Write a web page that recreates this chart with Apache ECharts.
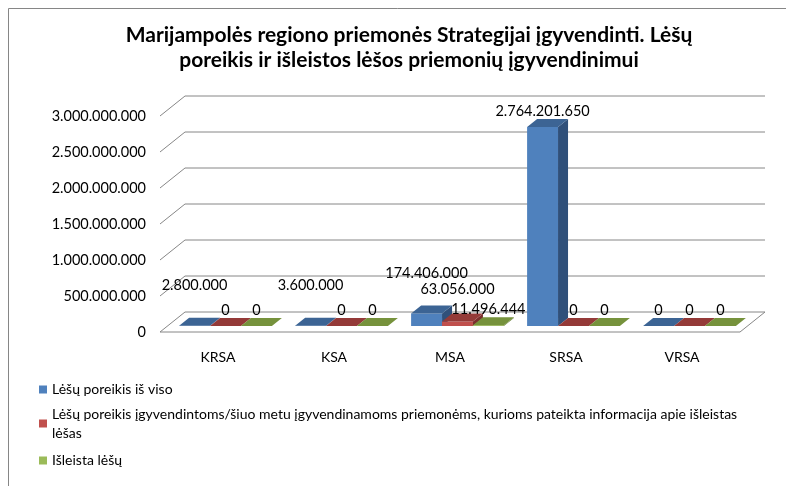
<!DOCTYPE html>
<html>
<head>
<meta charset="utf-8">
<script src="https://cdn.jsdelivr.net/npm/echarts@6/dist/echarts.min.js"></script>
<style>
  html, body { margin: 0; padding: 0; background: #fff; }
  #chart { width: 786px; height: 486px; }
</style>
</head>
<body>
<div id="chart"></div>
<script>
// duomenys
const categories = ['KRSA', 'KSA', 'MSA', 'SRSA', 'VRSA']
const seriesNames = [
  'Lėšų poreikis iš viso',
  'Lėšų poreikis įgyvendintoms/šiuo metu įgyvendinamoms priemonėms, kurioms pateikta informacija apie išleistas lėšas',
  'Išleista lėšų'
]
const poreikisViso = [2800000, 3600000, 174406000, 2764201650, 0]
const poreikisIgyv = [0, 0, 63056000, 0, 0]
const isleista = [0, 0, 11496444, 0, 0]
const yTicks = [0, 500000000, 1000000000, 1500000000, 2000000000, 2500000000, 3000000000]

const FONT = 'Lato, "Open Sans", sans-serif'
const DX = 25   // 3D gylis
const DY = -20
const colors = [
  { front: '#4F81BD', top: '#3C6494', side: '#30507A' },
  { front: '#C0504D', top: '#943A38', side: '#7A2F2D' },
  { front: '#9BBB59', top: '#76923C', side: '#627A31' }
]
// rankiniai etikečių poslinkiai (kaip originale)
const labelNudge = { '0-0': -24, '0-1': -24, '0-2': -24, '1-2': -16 }

const fmt = (v) => String(Math.round(v)).replace(/\B(?=(\d{3})+(?!\d))/g, '.')

const chart = echarts.init(document.getElementById('chart'))

// galinė siena, kairės pusės įstrižainės ir grindys
const frameItem = (params, api) => {
  const cs = params.coordSys
  const v = api.value(1)
  const y = api.coord([0, v])[1]
  const style = { stroke: '#868686', lineWidth: 1, fill: null }
  const children = [{
    type: 'polyline',
    shape: { points: [[cs.x, y], [cs.x + DX, y + DY], [cs.x + cs.width + DX, y + DY]] },
    style: style
  }]
  if (v === 0) {
    children.push({
      type: 'polyline',
      shape: { points: [[cs.x, y], [cs.x + cs.width, y], [cs.x + cs.width + DX, y + DY]] },
      style: style
    })
  }
  return { type: 'group', children: children, silent: true }
}

// 3D stulpelis: priekis, šonas, viršus + reikšmė
const barItem = (s) => (params, api) => {
  const idx = api.value(0)
  const val = api.value(1)
  const band = api.size([1, 0])[0]
  const w = band * 0.8 / 3
  const base = api.coord([idx, 0])
  const topP = api.coord([idx, val])
  const fx = 0.3 * DX, fy = 0.3 * DY
  const dx = 0.4 * DX, dy = 0.4 * DY
  const xL = base[0] - 1.5 * w + s * w + fx
  const xR = xL + w
  const yB = base[1] + fy
  const yT = topP[1] + fy
  const c = colors[s]
  const nudge = labelNudge[s + '-' + idx] || 0
  return {
    type: 'group',
    children: [
      { type: 'rect', shape: { x: xL, y: yT, width: w, height: yB - yT }, style: { fill: c.front } },
      { type: 'polygon', shape: { points: [[xR, yT], [xR + dx, yT + dy], [xR + dx, yB + dy], [xR, yB]] }, style: { fill: c.side } },
      { type: 'polygon', shape: { points: [[xL, yT], [xR, yT], [xR + dx, yT + dy], [xL + dx, yT + dy]] }, style: { fill: c.top } },
      {
        type: 'text',
        style: {
          x: xL + w / 2, y: yT + dy - 8 + nudge,
          text: fmt(val), align: 'center', verticalAlign: 'middle',
          fill: '#000', font: '14.5px ' + FONT
        }
      }
    ]
  }
}

const seriesData = [poreikisViso, poreikisIgyv, isleista]
const legendTops = [375, 390, 446]

const option = {
  animation: false,
  textStyle: { fontFamily: FONT },
  title: {
    text: 'Marijampolės regiono priemonės Strategijai įgyvendinti. Lėšų\nporeikis ir išleistos lėšos priemonių įgyvendinimui',
    left: 404,
    textAlign: 'center',
    top: 18,
    textStyle: { fontFamily: FONT, fontSize: 21, fontWeight: 'bold', color: '#000', lineHeight: 25 }
  },
  graphic: [{
    type: 'rect', silent: true,
    shape: { x: 8.5, y: 8.5, width: 820, height: 520 },
    style: { fill: null, stroke: '#868686', lineWidth: 1 }
  }],
  legend: seriesNames.map((name, i) => ({
    data: [name],
    left: 34,
    top: legendTops[i],
    icon: 'rect',
    itemWidth: 8,
    itemHeight: 8,
    itemGap: 3,
    selectedMode: false,
    // ilgas pavadinimas laužomas kaip originale
    formatter: (n) => n.replace(' lėšas', '\nlėšas'),
    textStyle: Object.assign(
      { fontFamily: FONT, fontSize: 14, color: '#000', lineHeight: 19 },
      i === 1 ? { padding: [19, 0, 0, 0] } : {}
    )
  })),
  grid: { left: 160, right: 46, top: 116, bottom: 154 },
  xAxis: {
    type: 'category',
    data: categories,
    axisLine: { show: false },
    axisTick: { show: false },
    axisLabel: { color: '#000', fontSize: 14, margin: 18, fontFamily: FONT }
  },
  yAxis: {
    type: 'value',
    min: 0,
    max: 3000000000,
    interval: 500000000,
    axisLine: { show: false },
    axisTick: { show: false },
    splitLine: { show: false },
    axisLabel: { color: '#000', fontSize: 14.5, margin: 14, fontFamily: FONT, formatter: fmt }
  },
  series: [
    {
      type: 'custom',
      name: 'frame',
      renderItem: frameItem,
      encode: { x: 0, y: 1 },
      data: yTicks.map((v) => [0, v]),
      z: 1,
      silent: true
    }
  ].concat(seriesData.map((arr, s) => ({
    type: 'custom',
    name: seriesNames[s],
    itemStyle: { color: colors[s].front },
    renderItem: barItem(s),
    encode: { x: 0, y: 1 },
    data: arr.map((v, i) => [i, v]),
    z: 2 + s
  })))
}

chart.setOption(option)
</script>
</body>
</html>
